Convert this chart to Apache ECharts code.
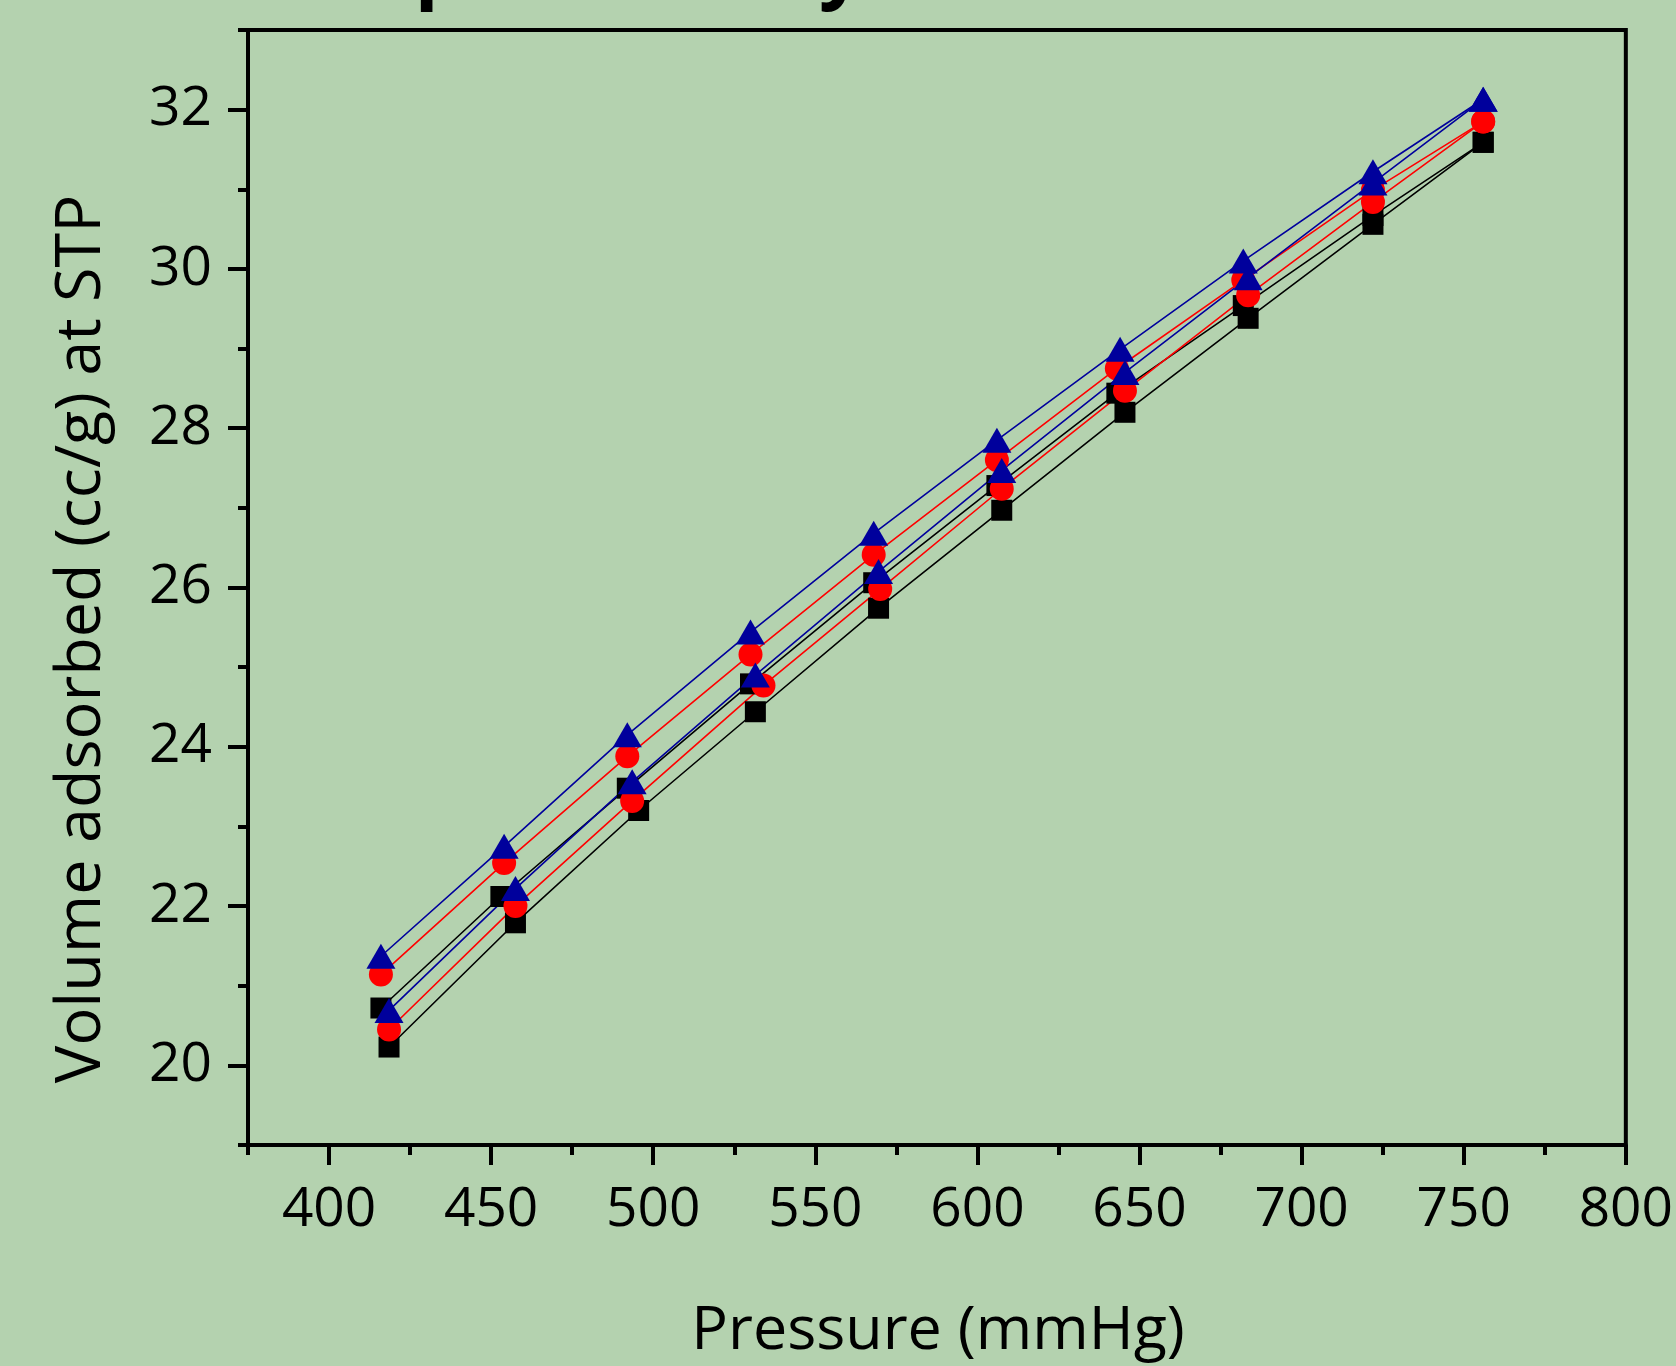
<!DOCTYPE html>
<html>
<head>
<meta charset="utf-8">
<script src="https://cdn.jsdelivr.net/npm/echarts@6/dist/echarts.min.js"></script>
<style>
html,body{margin:0;padding:0;background:#B4D2AF;}
#c{width:1676px;height:1366px;}
</style>
</head>
<body>
<div id="c"></div>
<script>
// ---- Data ----
const sq1X   = [416, 453, 492, 530, 568, 606, 643, 682, 722, 756];
const sq1Y   = [20.72, 22.12, 23.48, 24.79, 26.06, 27.28, 28.44, 29.54, 30.67, 31.59];
const circ1X = [416, 454, 492, 530, 568, 606, 643, 682, 722, 756];
const circ1Y = [21.14, 22.54, 23.88, 25.16, 26.41, 27.60, 28.75, 29.86, 30.99, 31.85];
const tri1X  = [416, 454, 492, 530, 568, 606, 644, 682, 722, 756];
const tri1Y  = [21.37, 22.75, 24.15, 25.44, 26.68, 27.85, 28.99, 30.10, 31.22, 32.13];

const sq2X   = [418.5, 457.5, 495.5, 531.5, 569.5, 607.5, 645.5, 683.5, 722, 756];
const sq2Y   = [20.23, 21.79, 23.20, 24.44, 25.74, 26.97, 28.20, 29.38, 30.56, 31.59];
const circ2X = [418.5, 457.5, 493.5, 534, 570, 607.5, 645.5, 683.5, 722, 756];
const circ2Y = [20.45, 22.00, 23.32, 24.77, 25.98, 27.24, 28.47, 29.67, 30.84, 31.85];
const tri2X  = [418.5, 457.5, 493.5, 531.5, 569.5, 607.5, 645.5, 683.5, 722, 756];
const tri2Y  = [20.69, 22.22, 23.56, 24.90, 26.20, 27.47, 28.70, 29.89, 31.08, 32.13];

const xTickLabels = [400, 450, 500, 550, 600, 650, 700, 750, 800];
const xMinorTicks = [375, 425, 475, 525, 575, 625, 675, 725, 775];
const yTickLabels = [20, 22, 24, 26, 28, 30, 32];
const yMinorTicks = [19, 21, 23, 25, 27, 29, 31, 33];

const titleText = 'Adsorption Study';
const xTitle = 'Pressure (mmHg)';
const yTitle = 'Volume adsorbed (cc/g) at STP';

// ---- Chart ----
const FONT = 'Open Sans';
const pairs = (xs, ys) => xs.map((x, i) => [x, ys[i]]);

function mkSeries(name, xs, ys, symbol, size, color) {
  return {
    type: 'line', name: name, data: pairs(xs, ys),
    xAxisIndex: 0, yAxisIndex: 0,
    symbol: symbol, symbolSize: size, showSymbol: true,
    itemStyle: { color: color, borderWidth: 0, opacity: 1 },
    lineStyle: { color: color, width: 1.6 },
    emphasis: { disabled: true },
    animation: false
  };
}

const axisLineStyle = { color: '#000', width: 4 };

const chart = echarts.init(document.getElementById('c'), null, { renderer: 'canvas' });
chart.setOption({
  backgroundColor: '#B4D2AF',
  animation: false,
  grid: {
    left: 248, right: 46, top: 30, bottom: 221,
    show: true, borderColor: '#000', borderWidth: 4, backgroundColor: 'transparent',
    containLabel: false
  },
  xAxis: [
    {
      type: 'value', min: 375, max: 800, position: 'bottom',
      axisLine: { show: true, onZero: false, lineStyle: axisLineStyle },
      axisTick: { show: true, customValues: xTickLabels, length: 20, lineStyle: axisLineStyle },
      axisLabel: { show: true, customValues: xTickLabels, margin: 38, fontSize: 55, fontFamily: FONT, color: '#000' },
      splitLine: { show: false }
    },
    {
      type: 'value', min: 375, max: 800, position: 'bottom',
      axisLine: { show: false, onZero: false },
      axisTick: { show: true, customValues: xMinorTicks, length: 10, lineStyle: axisLineStyle },
      axisLabel: { show: false },
      splitLine: { show: false }
    }
  ],
  yAxis: [
    {
      type: 'value', min: 19, max: 33, position: 'left',
      axisLine: { show: true, onZero: false, lineStyle: axisLineStyle },
      axisTick: { show: true, customValues: yTickLabels, length: 20, lineStyle: axisLineStyle },
      axisLabel: { show: true, customValues: yTickLabels, margin: 36, fontSize: 55, fontFamily: FONT, color: '#000' },
      splitLine: { show: false }
    },
    {
      type: 'value', min: 19, max: 33, position: 'left',
      axisLine: { show: false, onZero: false },
      axisTick: { show: true, customValues: yMinorTicks, length: 10, lineStyle: axisLineStyle },
      axisLabel: { show: false },
      splitLine: { show: false }
    }
  ],
  graphic: [
    {
      type: 'text', left: 189, top: -68, silent: true,
      style: { text: titleText, fontFamily: FONT, fontWeight: 'bold', fontSize: 78, fill: '#000' }
    },
    {
      type: 'text', x: 938, y: 1332, silent: true,
      style: { text: xTitle, fontFamily: FONT, fontSize: 61, fill: '#000', align: 'center', verticalAlign: 'middle' }
    },
    {
      type: 'text', x: 82, y: 639, rotation: Math.PI / 2, silent: true,
      style: { text: yTitle, fontFamily: FONT, fontSize: 63, fill: '#000', align: 'center', verticalAlign: 'middle' }
    }
  ],
  series: [
    mkSeries('Square 1', sq1X, sq1Y, 'rect', 21, '#000000'),
    mkSeries('Square 2', sq2X, sq2Y, 'rect', 21, '#000000'),
    mkSeries('Circle 1', circ1X, circ1Y, 'circle', 24, '#FF0000'),
    mkSeries('Circle 2', circ2X, circ2Y, 'circle', 24, '#FF0000'),
    mkSeries('Triangle 1', tri1X, tri1Y, 'triangle', [29, 25], '#00009C'),
    mkSeries('Triangle 2', tri2X, tri2Y, 'triangle', [29, 25], '#00009C')
  ]
});
</script>
</body>
</html>
